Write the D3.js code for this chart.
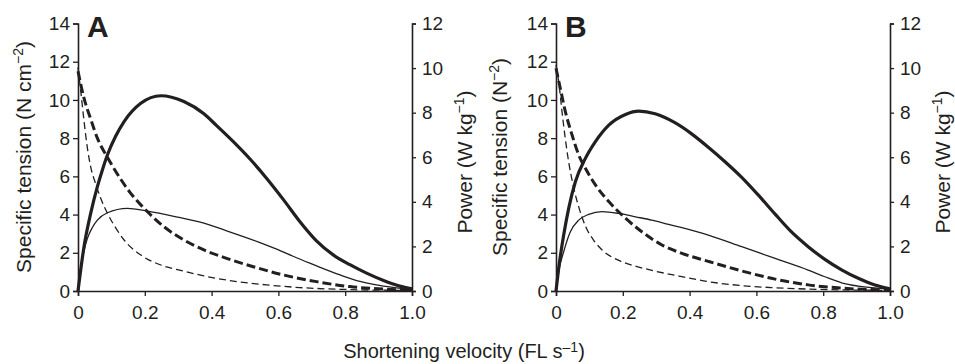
<!DOCTYPE html>
<html><head><meta charset="utf-8">
<script src="https://cdn.jsdelivr.net/npm/d3@7"></script>
<style>
body{margin:0;background:#fff;}
svg{display:block;font-family:"Liberation Sans",Arial,sans-serif;}
.tick text{font-size:19px;fill:#231f20;}
</style></head><body>
<svg id="c" width="955" height="364"></svg>
<script>
// ---- data (velocity in FL s-1; tension in N cm-2, left axis; power in W kg-1, right axis)
const xTicks = [0, 0.2, 0.4, 0.6, 0.8, 1.0];
const xTickLabels = ["0", "0.2", "0.4", "0.6", "0.8", "1.0"];
const leftTicks = [0, 2, 4, 6, 8, 10, 12, 14];
const rightTicks = [0, 2, 4, 6, 8, 10, 12];
const panelLabels = ["A", "B"];
const leftTitles = ["Specific tension (N cm", "Specific tension (N"];
const rightTitle = "Power (W kg";
const xTitle = "Shortening velocity (FL s";

// Panel A
const A_powerThick = [[0,0],[0.018,1.99],[0.038,3.48],[0.058,4.68],[0.073,5.43],[0.088,6.1],[0.113,6.95],[0.138,7.6],[0.188,8.42],[0.248,8.76],[0.317,8.5],[0.377,7.95],[0.415,7.42],[0.465,6.70],[0.515,5.92],[0.565,5.05],[0.615,4.10],[0.664,3.12],[0.714,2.25],[0.764,1.62],[0.814,1.18],[0.864,0.80],[0.913,0.48],[0.963,0.22],[1.0,0.10]];
const A_powerThin = [[0,0],[0.008,1.0],[0.018,1.8],[0.028,2.35],[0.043,2.85],[0.058,3.18],[0.088,3.51],[0.148,3.71],[0.208,3.58],[0.287,3.35],[0.377,3.04],[0.445,2.70],[0.495,2.44],[0.545,2.17],[0.595,1.88],[0.644,1.56],[0.694,1.25],[0.744,0.95],[0.794,0.67],[0.844,0.43],[0.893,0.27],[0.943,0.16],[1.0,0.07]];
const A_tensionThick = [[0,11.5],[0.018,10.09],[0.038,9.0],[0.058,8.0],[0.088,7.0],[0.108,6.4],[0.158,5.11],[0.208,4.15],[0.257,3.37],[0.317,2.67],[0.377,2.15],[0.445,1.71],[0.525,1.27],[0.615,0.84],[0.714,0.49],[0.814,0.23],[0.913,0.10],[1.0,0.05]];
const A_tensionThin = [[0,11.7],[0.008,10.5],[0.018,8.9],[0.028,7.5],[0.038,6.5],[0.053,5.6],[0.068,4.85],[0.088,4.07],[0.113,3.3],[0.138,2.67],[0.188,1.88],[0.248,1.36],[0.307,1.08],[0.377,0.79],[0.465,0.52],[0.565,0.32],[0.664,0.18],[0.8,0.08],[1.0,0.03]];

// Panel B
const B_powerThick = [[0,0],[0.008,1.02],[0.023,2.51],[0.038,3.71],[0.058,4.9],[0.088,5.95],[0.118,6.7],[0.158,7.44],[0.208,7.92],[0.248,8.07],[0.297,7.95],[0.356,7.55],[0.406,7.05],[0.456,6.45],[0.506,5.8],[0.556,5.1],[0.606,4.3],[0.656,3.45],[0.705,2.65],[0.755,1.99],[0.805,1.42],[0.855,0.95],[0.905,0.57],[0.955,0.27],[1.0,0.10]];
const B_powerThin = [[0,0],[0.008,0.87],[0.023,1.76],[0.043,2.66],[0.068,3.18],[0.098,3.44],[0.138,3.56],[0.188,3.48],[0.238,3.33],[0.287,3.18],[0.337,2.99],[0.377,2.84],[0.456,2.51],[0.556,1.99],[0.656,1.46],[0.755,0.94],[0.805,0.64],[0.855,0.37],[0.905,0.22],[1.0,0.09]];
const B_tensionThick = [[0,11.66],[0.013,10.6],[0.028,9.39],[0.048,8.17],[0.068,7.12],[0.088,6.42],[0.118,5.55],[0.158,4.68],[0.208,3.81],[0.257,3.1],[0.317,2.41],[0.377,1.97],[0.456,1.55],[0.556,1.05],[0.656,0.62],[0.755,0.32],[0.855,0.15],[1.0,0.05]];
const B_tensionThin = [[0,11.83],[0.008,10.96],[0.018,9.39],[0.028,7.95],[0.038,6.75],[0.053,5.4],[0.068,4.4],[0.088,3.4],[0.113,2.65],[0.138,2.15],[0.188,1.6],[0.238,1.3],[0.287,1.08],[0.377,0.75],[0.456,0.49],[0.556,0.28],[0.656,0.17],[0.755,0.1],[1.0,0.03]];

const panels = [
  {x0:78, x1:412, label:panelLabels[0], lt:leftTitles[0], ltX:31, rtX:472, pt:A_powerThick, pn:A_powerThin, tt:A_tensionThick, tn:A_tensionThin},
  {x0:556, x1:890, label:panelLabels[1], lt:leftTitles[1], ltX:507, rtX:950, pt:B_powerThick, pn:B_powerThin, tt:B_tensionThick, tn:B_tensionThin}
];

const svg = d3.select("#c");
const yTop = 23.5, yBot = 291;
const col = "#231f20";

panels.forEach(p => {
  const x = d3.scaleLinear([0,1],[p.x0,p.x1]);
  const yL = d3.scaleLinear([0,14],[yBot,yTop]);
  const yR = d3.scaleLinear([0,12],[yBot,yTop]);
  const g = svg.append("g");

  const ax = g.append("g").attr("transform",`translate(0,${yBot})`)
    .call(d3.axisBottom(x).tickValues(xTicks).tickFormat((d,i)=>xTickLabels[i]).tickSizeOuter(0).tickSize(5).tickPadding(9));
  const al = g.append("g").attr("transform",`translate(${p.x0},0)`)
    .call(d3.axisLeft(yL).tickValues(leftTicks).tickSizeOuter(0).tickSize(5).tickPadding(3));
  const ar = g.append("g").attr("transform",`translate(${p.x1},0)`)
    .call(d3.axisRight(yR).tickValues(rightTicks).tickSizeOuter(0).tickSize(4).tickPadding(6));
  [ax,al,ar].forEach(a=>{
    a.selectAll(".domain").attr("stroke",col).attr("stroke-width",1.6);
    a.selectAll(".tick line").attr("stroke",col).attr("stroke-width",1.3);
    a.selectAll(".tick text").attr("fill",col);
  });
  ax.selectAll(".tick text").attr("dy",null).attr("y",27.5);

  const lineL = d3.line().x(d=>x(d[0])).y(d=>yL(d[1])).curve(d3.curveMonotoneX);
  const lineR = d3.line().x(d=>x(d[0])).y(d=>yR(d[1])).curve(d3.curveMonotoneX);

  g.append("path").attr("d",lineL(p.tn)).attr("fill","none").attr("stroke",col).attr("stroke-width",1.3).attr("stroke-dasharray","7,4");
  g.append("path").attr("d",lineL(p.tt)).attr("fill","none").attr("stroke",col).attr("stroke-width",3).attr("stroke-dasharray","9,4");
  g.append("path").attr("d",lineR(p.pn)).attr("fill","none").attr("stroke",col).attr("stroke-width",1.3);
  g.append("path").attr("d",lineR(p.pt)).attr("fill","none").attr("stroke",col).attr("stroke-width",3.2);

  g.append("text").attr("x",p.x0+9).attr("y",37).attr("font-size",30).attr("font-weight","bold").attr("fill",col).text(p.label);

  const lt = g.append("text").attr("transform",`translate(${p.ltX},157) rotate(-90)`).attr("text-anchor","middle")
    .attr("font-size",21).attr("fill",col);
  lt.append("tspan").text(p.lt);
  lt.append("tspan").attr("font-size",14).attr("dy","-0.6em").text("−2");
  lt.append("tspan").attr("dy","0.4em").text(")");

  const rt = g.append("text").attr("transform",`translate(${p.rtX},162) rotate(-90)`).attr("text-anchor","middle")
    .attr("font-size",21).attr("fill",col);
  rt.append("tspan").text(rightTitle);
  rt.append("tspan").attr("font-size",14).attr("dy","-0.6em").text("−1");
  rt.append("tspan").attr("dy","0.4em").text(")");
});

const xt = svg.append("text").attr("x",464).attr("y",358).attr("text-anchor","middle").attr("font-size",20).attr("fill",col);
xt.append("tspan").text(xTitle);
xt.append("tspan").attr("font-size",14).attr("dy","-0.45em").text("–1");
xt.append("tspan").attr("dy","0.3em").text(")");
</script></body></html>
